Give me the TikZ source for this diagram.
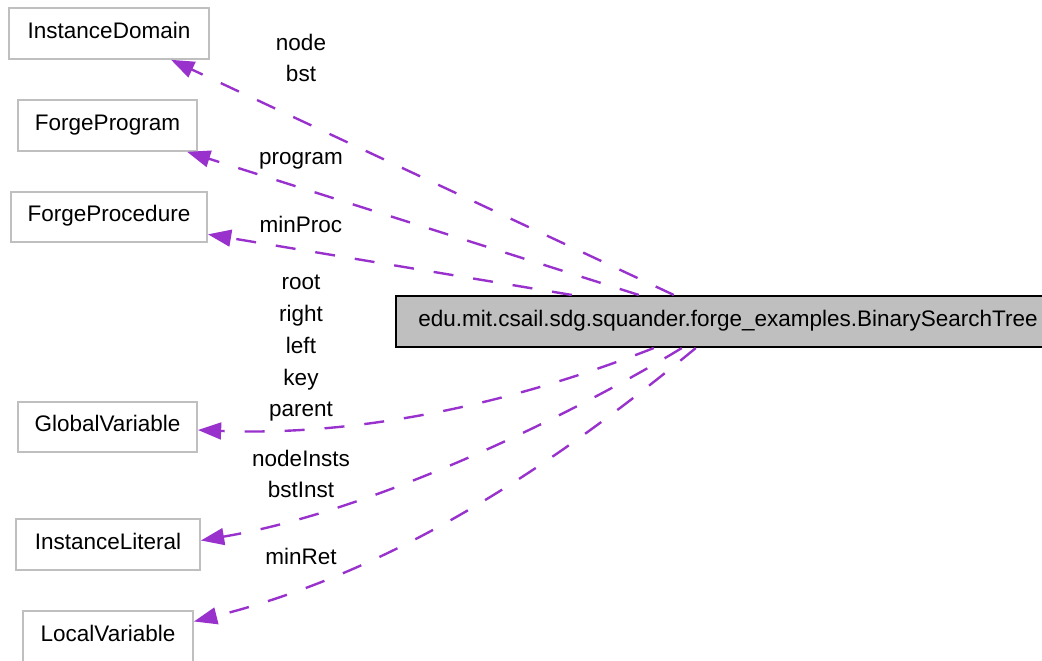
\documentclass[tikz,border=0pt]{standalone}
\usepackage{fontspec}
\setmainfont{Liberation Sans}
\usetikzlibrary{arrows.meta, calc}
\definecolor{edgepurple}{RGB}{153, 50, 204}
\definecolor{boxgray}{RGB}{191, 191, 191}

\begin{document}
\begin{tikzpicture}[x=0.025cm, y=-0.025cm, >={Triangle[length=0.58cm, width=0.42cm]},
  classbox/.style={draw=boxgray, line width=1.3pt, inner sep=0pt, minimum height=1.27cm, text height=11.5pt, text depth=5pt, font=\fontsize{16}{19}\selectfont},
  mainbox/.style={draw=black, fill=boxgray, line width=1.6pt, inner sep=0pt, minimum height=1.27cm, text height=11.5pt, text depth=4.5pt, font=\fontsize{16}{19}\selectfont},
  rel/.style={edgepurple, line width=1.7pt, dash pattern=on 0.5cm off 0.5cm, ->},
  lbl/.style={align=center, anchor=base, font=\fontsize{16}{22.7}\selectfont}]

  \useasboundingbox (0,0) rectangle (1042,661);

  % Class boxes
  \node[classbox, minimum width=5cm] (idom) at (109,33.5) {InstanceDomain};
  \node[classbox, minimum width=4.475cm] (fprog) at (107.5,125.5) {ForgeProgram};
  \node[classbox, minimum width=4.9cm] (fproc) at (109,217) {ForgeProcedure};
  \node[classbox, minimum width=4.475cm] (gvar) at (107.5,427) {GlobalVariable};
  \node[classbox, minimum width=4.6cm] (ilit) at (108,544.5) {InstanceLiteral};
  \node[classbox, minimum width=4.25cm] (lvar) at (108,636.5) {LocalVariable};

  % Main class
  \node[mainbox, minimum width=16.6cm] (main) at (728,321.5) {edu.mit.csail.sdg.squander.forge\_examples.BinarySearchTree};

  % Upper relations
  \draw[rel] ($(main.north west)+(279,0)$) -- ($(idom.south west)+(163,0)$);
  \draw[rel] ($(main.north west)+(244,0)$) -- ($(fprog.south west)+(170,0)$);
  \draw[rel] ($(main.north west)+(177,0)$) -- ($(fproc.south east)+(0,-9)$);

  % Lower relations
  \draw[rel] ($(main.south west)+(259,0)$) .. controls (470,420) and (320,435) .. ($(gvar.east)+(0,3)$);
  \draw[rel] ($(main.south west)+(287,0)$) .. controls (580,410) and (380,510) .. ($(ilit.east)+(0,-4)$);
  \draw[rel] ($(main.south west)+(301,0)$) .. controls (560,460) and (400,570) .. ($(lvar.east)+(0,-15)$);

  % Edge labels (base = last line)
  \node[lbl] (lidom) at (301,82) {node\\bst};
  \node[lbl] (lfprog) at (301,165) {program};
  \node[lbl] (lfproc) at (301,233) {minProc};
  \node[lbl] (lgvar) at (301,417) {root\\right\\left\\key\\parent};
  \node[lbl] (lilit) at (301,498) {nodeInsts\\bstInst};
  \node[lbl] (llvar) at (301,565) {minRet};

\end{tikzpicture}
\end{document}
